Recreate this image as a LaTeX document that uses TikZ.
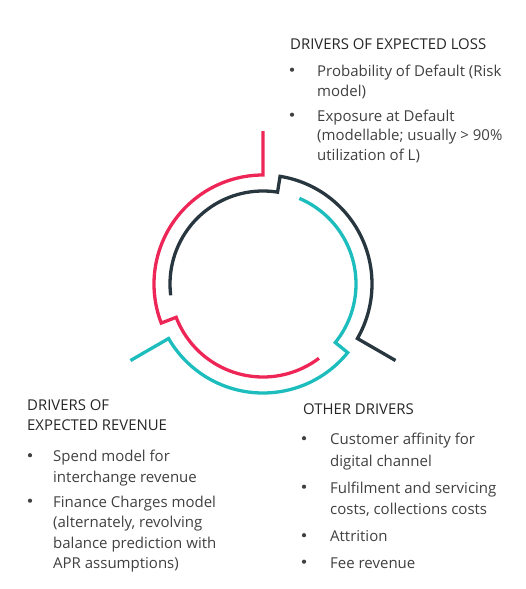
\documentclass[tikz,border=0pt]{standalone}
\usepackage{fontspec}
\setmainfont{Open Sans}
\definecolor{cred}{HTML}{EE2657}
\definecolor{cteal}{HTML}{1DBDBE}
\definecolor{cdark}{HTML}{27363F}
\definecolor{ctext}{HTML}{404040}
\definecolor{cttl}{HTML}{262626}
\begin{document}
\begin{tikzpicture}[x=1pt,y=1pt,
  ring/.style={line width=3.3pt, line join=miter, line cap=butt},
  ttl/.style={anchor=base west, font=\fontsize{14.9}{16}\selectfont, text=cttl, inner sep=0pt},
  itm/.style={anchor=base west, font=\fontsize{15}{20}\selectfont, text=ctext, inner sep=0pt},
  bul/.style={circle, fill=ctext, inner sep=0pt, minimum size=4.2pt}]
\useasboundingbox (0,0) rectangle (525,-589);
\coordinate (C) at (263,-284);
% red
\draw[ring, cred] ([shift={(90:153)}]C) -- ([shift={(90:109)}]C)
  arc[start angle=90, end angle=201, radius=109]
  -- ([shift={(201:93)}]C) arc[start angle=201, end angle=307, radius=93];
% teal
\draw[ring, cteal] ([shift={(210:153)}]C) -- ([shift={(210:109)}]C)
  arc[start angle=210, end angle=321, radius=109]
  -- ([shift={(321:93)}]C) arc[start angle=321, end angle=427, radius=93];
% dark
\draw[ring, cdark] ([shift={(330:153)}]C) -- ([shift={(330:109)}]C)
  arc[start angle=330, end angle=441, radius=109]
  -- ([shift={(441:93)}]C) arc[start angle=441, end angle=547, radius=93];
% top right block
\node[ttl] (tA) at (290,-49) {DRIVERS OF EXPECTED LOSS};
\node[bul] (bA1) at (292,-69.7) {};
\node[itm] (lA1) at (317,-76) {Probability of Default (Risk};
\node[itm] (lA2) at (317,-96) {model)};
\node[bul] (bA2) at (292,-114.7) {};
\node[itm] (lA3) at (317,-121) {Exposure at Default};
\node[itm] (lA4) at (317,-140.5) {(modellable; usually > 90\%};
\node[itm] (lA5) at (317,-160) {utilization of L)};
% bottom left block
\node[ttl] (tB1) at (27,-410.5) {DRIVERS OF};
\node[ttl] (tB2) at (27,-430) {EXPECTED REVENUE};
\node[bul] (bB1) at (30,-455.2) {};
\node[itm] (lB1) at (53,-461.5) {Spend model for};
\node[itm] (lB2) at (53,-482) {interchange revenue};
\node[bul] (bB2) at (30,-500.7) {};
\node[itm] (lB3) at (53,-507) {Finance Charges model};
\node[itm] (lB4) at (53,-527.5) {(alternately, revolving};
\node[itm] (lB5) at (53,-548) {balance prediction with};
\node[itm] (lB6) at (53,-568) {APR assumptions)};
% bottom right block
\node[ttl] (tC) at (303,-414) {OTHER DRIVERS};
\node[bul] (bC1) at (304,-438.2) {};
\node[itm] (lC1) at (330,-444.5) {Customer affinity for};
\node[itm] (lC2) at (330,-466) {digital channel};
\node[bul] (bC2) at (304,-486.7) {};
\node[itm] (lC3) at (330,-493) {Fulfilment and servicing};
\node[itm] (lC4) at (330,-514.5) {costs, collections costs};
\node[bul] (bC3) at (304,-535.2) {};
\node[itm] (lC5) at (330,-541.5) {Attrition};
\node[bul] (bC4) at (304,-561.7) {};
\node[itm] (lC6) at (330,-568) {Fee revenue};
\end{tikzpicture}
\end{document}
